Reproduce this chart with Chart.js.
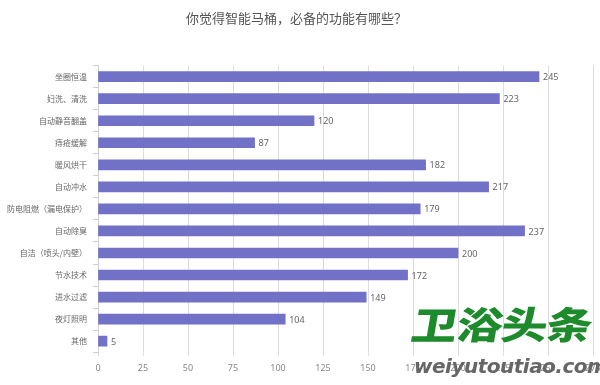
<!DOCTYPE html>
<html>
<head>
<meta charset="utf-8">
<script src="https://cdn.jsdelivr.net/npm/chart.js@4"></script>
<style>
html,body{margin:0;padding:0;background:#fff;}
#wrap{position:relative;width:600px;height:385px;}
canvas{display:block;}
.wm1{position:absolute;left:416px;top:301px;white-space:nowrap;font-family:"Noto Sans CJK SC";font-weight:900;font-size:46px;line-height:52px;color:#1d8a2c;letter-spacing:-1px;transform:scaleY(0.82) skewX(-8deg);transform-origin:left top;}
.wm2{position:absolute;left:414px;top:354px;width:182px;white-space:nowrap;text-align:center;font-family:"DejaVu Sans";font-weight:bold;font-style:italic;font-size:20px;line-height:24px;color:#666;letter-spacing:-0.5px;}
</style>
</head>
<body>
<div id="wrap">
<canvas id="c" width="600" height="385"></canvas>
<div class="wm1">卫浴头条</div>
<div class="wm2">weiyutoutiao.com</div>
</div>
<script>
const titleText = "你觉得智能马桶，必备的功能有哪些？";
const categories = ["坐圈恒温","妇洗、清洗","自动静音翻盖","痔疮缓解","暖风烘干","自动冲水","防电阻燃（漏电保护）","自动除臭","自洁（喷头/内壁）","节水技术","进水过滤","夜灯照明","其他"];
const values = [245,223,120,87,182,217,179,237,200,172,149,104,5];
const xMin = 0, xMax = 275, xStep = 25;

const valueLabels = {
  id: 'valueLabels',
  afterDatasetsDraw(chart) {
    const ctx = chart.ctx;
    const meta = chart.getDatasetMeta(0);
    ctx.save();
    ctx.font = '9px "Noto Sans", sans-serif';
    ctx.fillStyle = '#666';
    ctx.textAlign = 'left';
    ctx.textBaseline = 'middle';
    meta.data.forEach((bar, i) => {
      ctx.fillText(String(values[i]), bar.x + 4, bar.y + 1);
    });
    ctx.restore();
  }
};

new Chart(document.getElementById('c'), {
  type: 'bar',
  data: {
    labels: categories,
    datasets: [{
      data: values,
      backgroundColor: '#7171c8',
      borderWidth: 0,
      barThickness: 10
    }]
  },
  options: {
    indexAxis: 'y',
    responsive: false,
    animation: false,
    layout: { padding: { left: 0, right: 7, top: 0, bottom: 4 } },
    plugins: {
      legend: { display: false },
      tooltip: { enabled: false },
      title: {
        display: true,
        text: titleText,
        color: '#555',
        font: { family: '"Noto Sans CJK SC"', size: 13, weight: 'normal' },
        padding: { top: 10, bottom: 40 }
      }
    },
    scales: {
      x: {
        min: xMin, max: xMax,
        ticks: { stepSize: xStep, color: '#888', font: { family: '"Noto Sans"', size: 9 }, padding: 7 },
        grid: { color: '#dcdcdc', lineWidth: 1, tickLength: 4, drawTicks: true },
        border: { display: false },
        afterFit(scale) { scale.paddingRight = 0; }
      },
      y: {
        ticks: { color: '#666', font: { family: '"Noto Sans CJK SC"', size: 8 }, padding: 6 },
        grid: { drawOnChartArea: false, drawTicks: true, tickLength: 5, color: '#cfcfcf', offset: true },
        border: { display: true, color: '#cfcfcf' },
        afterFit(scale) { scale.width = 98; }
      }
    }
  },
  plugins: [valueLabels]
});
</script>
</body>
</html>
